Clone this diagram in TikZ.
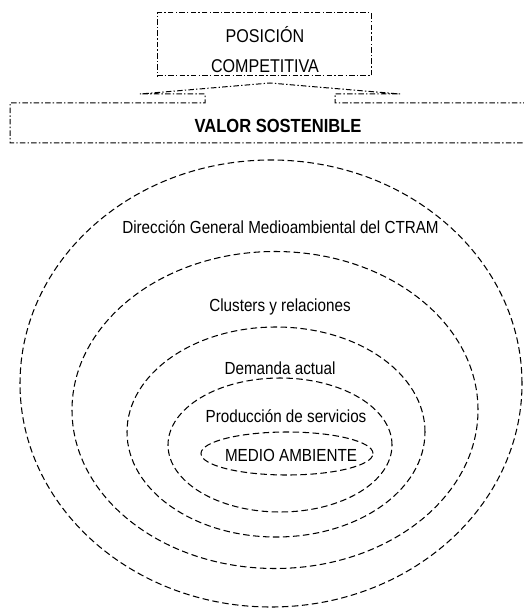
\documentclass[tikz,border=0pt]{standalone}
\usepackage{fontspec}
\setmainfont{Liberation Sans}
\newfontfamily\labfont[FakeStretch=0.87]{Liberation Sans}
\begin{document}
\begin{tikzpicture}[x=1pt,y=-1pt,
  dashdot/.style={line width=1pt,dash pattern=on 5.5pt off 2.2pt on 1.4pt off 2.2pt},
  ring/.style={line width=1.05pt,dash pattern=on 6.5pt off 3.5pt},
  lab/.style={inner sep=0pt,font=\labfont\fontsize{17.5}{20}\selectfont},
  every node/.style={text=black}]
\useasboundingbox (0,0) rectangle (523,612);
% top box
\node[dashdot,draw,minimum width=214pt,minimum height=63pt,inner sep=0pt] (posbox) at (264,44.5) {};
\node[inner sep=0pt,align=center,font=\labfont\fontsize{18.5}{30}\selectfont] (postext) at (265,50) {POSICIÓN\\COMPETITIVA};
% valor box with arrow
\draw[dashdot] (540,103) -- (335,103) -- (335,94) -- (400,94) -- (270,83) -- (140,94) -- (205,94) -- (205,103) -- (10,103) -- (10,143) -- (540,143);
\node[inner sep=0pt,font=\labfont\bfseries\fontsize{19}{22}\selectfont] (valor) at (278,126) {VALOR SOSTENIBLE};
% ellipses
\draw[ring] (271,383.5) ellipse [x radius=251pt, y radius=223.5pt];
\draw[ring] (275,410) ellipse [x radius=203pt, y radius=158.5pt];
\draw[ring] (276,432) ellipse [x radius=149pt, y radius=105pt];
\draw[ring] (280,445) ellipse [x radius=112pt, y radius=67pt];
\draw[ring] (287,453.5) ellipse [x radius=86pt, y radius=21.5pt];
% labels
\node[lab] (dir) at (280.5,227.5) {Dirección General Medioambiental del CTRAM};
\node[lab] (clu) at (280,307) {Clusters y relaciones};
\node[lab] (dem) at (280,368) {Demanda actual};
\node[lab] (pro) at (286,416) {Producción de servicios};
\node[lab] (med) at (291,455) {MEDIO AMBIENTE};
\end{tikzpicture}
\end{document}
